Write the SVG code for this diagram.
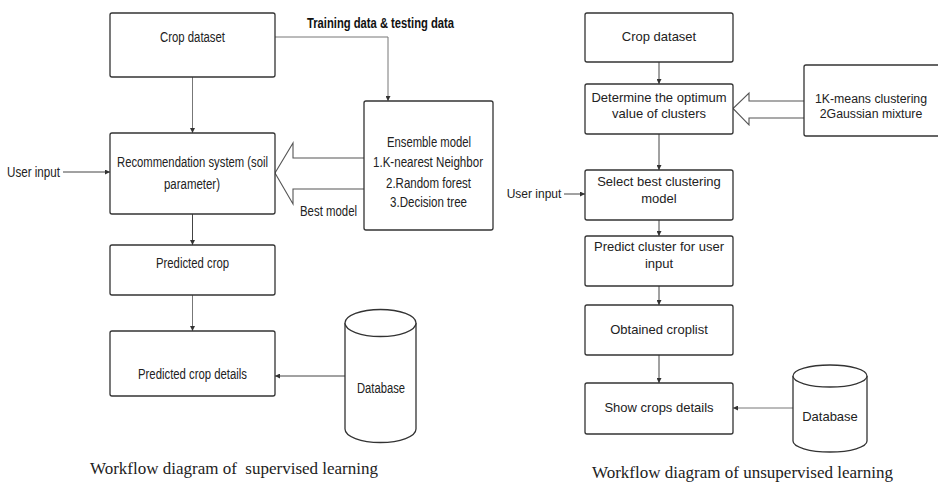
<svg xmlns="http://www.w3.org/2000/svg" width="938" height="482" viewBox="0 0 938 482">
<defs>
<style>
.box{fill:#fff;stroke:#333;stroke-width:1.3}
.ln{fill:none;stroke:#777;stroke-width:1}
.ln2{fill:none;stroke:#444;stroke-width:1}
.hol{fill:#fff;stroke:#555;stroke-width:1.1;stroke-linejoin:miter}
.tl{font-family:"Liberation Sans",Arial,sans-serif;font-size:15.5px;fill:#222;text-anchor:middle}
.tr{font-family:"Liberation Sans",Arial,sans-serif;font-size:13px;fill:#222;text-anchor:middle}
.cap{font-family:"Liberation Serif","DejaVu Serif",serif;font-size:17px;fill:#222;white-space:pre}
</style>
<marker id="ah" viewBox="0 0 6 6" refX="6" refY="3" markerWidth="5" markerHeight="5" orient="auto" markerUnits="userSpaceOnUse">
<path d="M0,0 L6,3 L0,6 z" fill="#333"/>
</marker>
</defs>
<rect width="938" height="482" fill="#fff"/>

<g id="connectors">
<path class="ln" d="M192.5,77 V133" marker-end="url(#ah)"/>
<path class="ln" d="M275,37 H388 V101" marker-end="url(#ah)"/>
<path class="ln2" d="M63,172 H110" marker-end="url(#ah)"/>
<path class="ln2" d="M192.5,214 V245" marker-end="url(#ah)"/>
<path class="ln" d="M192.5,295 V331" marker-end="url(#ah)"/>
<path class="ln2" d="M345,376 H275" marker-end="url(#ah)"/>
<path class="hol" d="M365,158 H293 V143 L275,173 L293,204 V189 H365"/>

<path class="ln2" d="M659,62 V84" marker-end="url(#ah)"/>
<path class="ln2" d="M659,134 V170" marker-end="url(#ah)"/>
<path class="ln2" d="M564,194 H585" marker-end="url(#ah)"/>
<path class="ln2" d="M659,220 V236" marker-end="url(#ah)"/>
<path class="ln2" d="M659,286 V305" marker-end="url(#ah)"/>
<path class="ln2" d="M659,355 V383" marker-end="url(#ah)"/>
<path class="ln" d="M793,408 H733" marker-end="url(#ah)"/>
<path class="hol" d="M805,101 H749 V93 L733,108.5 L749,125 V118 H805"/>
</g>

<g id="l-crop"><rect class="box" x="110" y="13" width="165" height="64" rx="2"/><text class="tl" x="192.5" y="42" textLength="65" lengthAdjust="spacingAndGlyphs">Crop dataset</text></g>
<g id="l-training-label"><text x="380.5" y="28" textLength="147" lengthAdjust="spacingAndGlyphs" style="font-family:'Liberation Sans',Arial,sans-serif;font-size:15.5px;font-weight:bold;fill:#111;text-anchor:middle">Training data &amp; testing data</text></g>
<g id="l-rec"><rect class="box" x="110" y="133" width="165" height="81" rx="2"/><text class="tl" x="192.5" y="167" textLength="151" lengthAdjust="spacingAndGlyphs">Recommendation system (soil</text><text class="tl" x="192" y="189" textLength="56" lengthAdjust="spacingAndGlyphs">parameter)</text></g>
<g id="l-user"><text class="tl" x="33.5" y="177" textLength="53" lengthAdjust="spacingAndGlyphs">User input</text></g>
<g id="l-ens"><rect class="box" x="364" y="101" width="129" height="129" rx="2"/>
<text class="tl" x="429" y="147" textLength="84" lengthAdjust="spacingAndGlyphs">Ensemble model</text>
<text class="tl" x="428" y="167" textLength="110" lengthAdjust="spacingAndGlyphs">1.K-nearest Neighbor</text>
<text class="tl" x="428.5" y="188" textLength="85" lengthAdjust="spacingAndGlyphs">2.Random forest</text>
<text class="tl" x="428.5" y="207" textLength="77" lengthAdjust="spacingAndGlyphs">3.Decision tree</text></g>
<g id="l-best"><text class="tl" x="328.5" y="216" textLength="57" lengthAdjust="spacingAndGlyphs">Best model</text></g>
<g id="l-pred"><rect class="box" x="110" y="245" width="165" height="50" rx="2"/><text class="tl" x="192.5" y="268" textLength="73" lengthAdjust="spacingAndGlyphs">Predicted crop</text></g>
<g id="l-details"><rect class="box" x="110" y="331" width="165" height="65" rx="2"/><text class="tl" x="192.5" y="379" textLength="109" lengthAdjust="spacingAndGlyphs">Predicted crop details</text></g>
<g id="l-db">
<path class="box" d="M345,323 V429 A35.5,13.5 0 0 0 416,429 V323"/>
<ellipse class="box" cx="380.5" cy="323" rx="35.5" ry="13.5"/>
<text class="tl" x="381" y="393" textLength="48" lengthAdjust="spacingAndGlyphs">Database</text></g>
<g id="l-caption"><text class="cap" x="90" y="474" textLength="288" lengthAdjust="spacingAndGlyphs">Workflow diagram of  supervised learning</text></g>

<g id="r-crop"><rect class="box" x="585" y="13" width="148" height="49" rx="2"/><text class="tr" x="659" y="41">Crop dataset</text></g>
<g id="r-det"><rect class="box" x="585" y="84" width="148" height="50" rx="2"/><text class="tr" x="659" y="102">Determine the optimum</text><text class="tr" x="659" y="118">value of clusters</text></g>
<g id="r-models"><rect class="box" x="804" y="65" width="145" height="71" rx="2"/><text class="tr" x="871" y="103" style="font-size:12.3px">1K-means clustering</text><text class="tr" x="871" y="118" style="font-size:12.3px">2Gaussian mixture</text></g>
<g id="r-user"><text class="tr" x="534" y="198" style="font-size:12px">User input</text></g>
<g id="r-sel"><rect class="box" x="585" y="170" width="148" height="50" rx="2"/><text class="tr" x="659" y="186">Select best clustering</text><text class="tr" x="659" y="203">model</text></g>
<g id="r-predict"><rect class="box" x="585" y="236" width="148" height="50" rx="2"/><text class="tr" x="659" y="251">Predict cluster for user</text><text class="tr" x="659" y="268">input</text></g>
<g id="r-obt"><rect class="box" x="585" y="305" width="148" height="50" rx="2"/><text class="tr" x="659" y="334">Obtained croplist</text></g>
<g id="r-show"><rect class="box" x="585" y="383" width="148" height="51" rx="2"/><text class="tr" x="659" y="412">Show crops details</text></g>
<g id="r-db">
<path class="box" d="M793,376 V441 A37,11 0 0 0 867,441 V376"/>
<ellipse class="box" cx="830" cy="376" rx="37" ry="11"/>
<text class="tr" x="830" y="421">Database</text></g>
<g id="r-caption"><text class="cap" x="592" y="478" textLength="301" lengthAdjust="spacingAndGlyphs">Workflow diagram of unsupervised learning</text></g>
</svg>
